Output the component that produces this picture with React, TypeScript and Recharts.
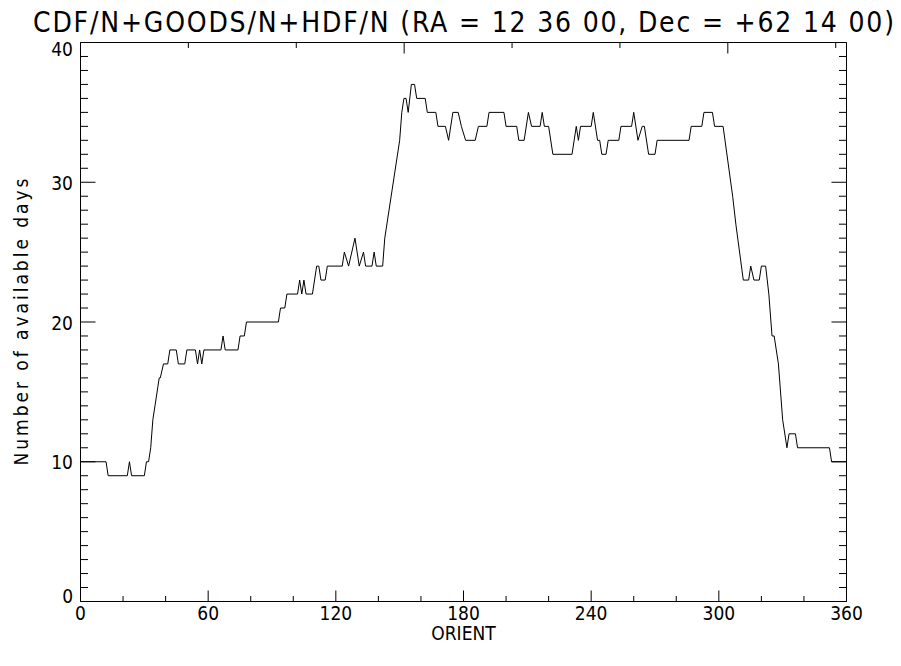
import { LineChart, Line, XAxis, YAxis, Label } from 'recharts';

// breakpoints of the curve (ORIENT in degrees)
const orient = [
  0, 12, 13, 22, 23, 24, 30, 31, 32, 33, 34, 35, 37, 37.5, 39, 41, 42, 45, 46, 49, 50, 54, 55, 56, 57, 58, 66, 67, 68, 74, 75,
  77, 78, 93, 94, 96, 97, 102, 103, 104, 105, 106, 109, 111, 112, 113, 115, 116, 123, 124, 126, 129, 131, 133, 134, 137, 138, 139, 142,
  143, 150, 151, 152, 153, 154, 155.5, 157, 158, 162, 163, 167, 168, 171.5, 173, 175, 177.5, 179, 181, 185.5, 187, 191, 192, 199, 200, 205, 206, 208.5, 210.5, 212, 216,
  217, 218, 220, 222, 231, 233, 234, 235, 240, 241, 243, 244, 245, 247, 248, 253, 254, 259, 260, 262, 264, 265, 267, 270, 271, 286, 287, 292, 293, 297, 298, 302,
  306.5, 308, 311.5, 314, 315, 316.5, 319, 320, 322, 323.5, 325, 326, 328, 330, 332, 333, 336, 337, 352, 353, 360,
];

const days = [
  10, 10, 9, 9, 10, 9, 9, 10, 10, 11, 13, 14, 16, 16, 17, 17, 18, 18, 17, 17, 18, 18, 17, 18, 17, 18, 18, 19, 18, 18, 19,
  19, 20, 20, 21, 21, 22, 22, 23, 22, 23, 22, 22, 24, 24, 23, 23, 24, 24, 25, 24, 26, 24, 25, 24, 24, 25, 24, 24,
  26, 33, 35, 36, 36, 35, 37, 37, 36, 36, 35, 35, 34, 34, 33, 35, 35, 34, 33, 33, 34, 34, 35, 35, 34, 34, 33, 33, 35, 34, 34,
  35, 34, 34, 32, 32, 34, 33, 34, 34, 35, 33, 33, 32, 32, 33, 33, 34, 34, 35, 33, 34, 34, 32, 32, 33, 33, 34, 34, 35, 35, 34, 34,
  29, 27, 23, 23, 24, 23, 23, 24, 24, 22, 19, 19, 17, 13, 11, 12, 12, 11, 11, 10, 10,
];

const xTicks = [0, 20, 40, 60, 80, 100, 120, 140, 160, 180, 200, 220, 240, 260, 280, 300, 320, 340, 360];
const xMajor = [0, 60, 120, 180, 240, 300, 360];
const yTicks = [
  0, 1, 2, 3, 4, 5, 6, 7, 8, 9, 10, 11, 12, 13, 14, 15, 16, 17, 18, 19, 20,
  21, 22, 23, 24, 25, 26, 27, 28, 29, 30, 31, 32, 33, 34, 35, 36, 37, 38, 39, 40,
];
const yMajor = [0, 10, 20, 30, 40];

const title = 'CDF/N+GOODS/N+HDF/N (RA = 12 36 00, Dec = +62 14 00)';
const xTitle = 'ORIENT';
const yTitle = 'Number of available days';

const FONT = "'DejaVu Sans Condensed', 'DejaVu Sans', sans-serif";

const data = orient.map((o, i) => ({ orient: o, days: days[i] }));

function XTick({ x, y, payload, top }: any) {
  const major = xMajor.includes(payload.value);
  const len = major ? 11 : 5.5;
  return (
    <g>
      <line x1={x} x2={x} y1={y} y2={top ? y + len : y - len} stroke="#000" />
      {!top && major && (
        <text x={x} y={y + 18} textAnchor="middle" fontFamily={FONT} fontSize={19} fill="#000">
          {payload.value}
        </text>
      )}
    </g>
  );
}

function YTick({ x, y, payload, right }: any) {
  const major = yMajor.includes(payload.value);
  const len = major ? 15 : 7.5;
  // end labels are pulled inside the frame
  let base = y + 7.5;
  if (payload.value === 0) base -= 6;
  if (payload.value === 40) base += 6;
  return (
    <g>
      <line x1={x} x2={right ? x - len : x + len} y1={y} y2={y} stroke="#000" />
      {!right && major && (
        <text x={x - 7.5} y={base} textAnchor="end" fontFamily={FONT} fontSize={19} fill="#000">
          {payload.value}
        </text>
      )}
    </g>
  );
}

export default function App() {
  return (
    <div style={{ position: 'absolute', left: 0, top: 0, width: 901, height: 666, background: '#fff' }}>
      <LineChart width={901} height={666} data={data} margin={{ top: 41.5, right: 53.5, bottom: 63.5, left: 79.5 }}>
        <XAxis
          dataKey="orient"
          type="number"
          domain={[0, 360]}
          ticks={xTicks}
          interval={0}
          height={1}
          tickSize={0}
          tickMargin={0}
          tickLine={false}
          stroke="#000"
          allowDataOverflow
          tick={(p: any) => <XTick {...p} />}
        >
          <Label
            content={(p: any) => (
              <text
                x={p.viewBox.x + p.viewBox.width / 2}
                y={p.viewBox.y + 38}
                textAnchor="middle"
                fontFamily={FONT}
                fontSize={19}
                fill="#000"
              >
                {xTitle}
              </text>
            )}
          />
        </XAxis>
        <XAxis
          xAxisId="top"
          orientation="top"
          type="number"
          domain={[0, 360]}
          ticks={xTicks}
          interval={0}
          height={1}
          tickSize={0}
          tickMargin={0}
          tickLine={false}
          stroke="#000"
          allowDataOverflow
          tick={(p: any) => <XTick {...p} top />}
        >
          <Label
            content={(p: any) => (
              <text
                x={p.viewBox.x + p.viewBox.width / 2}
                y={p.viewBox.y - 10}
                textAnchor="middle"
                fontFamily={FONT}
                fontSize={28}
                textLength={861}
                lengthAdjust="spacing"
                fill="#000"
              >
                {title}
              </text>
            )}
          />
        </XAxis>
        <YAxis
          type="number"
          domain={[0, 40]}
          ticks={yTicks}
          interval={0}
          width={1}
          tickSize={0}
          tickMargin={0}
          tickLine={false}
          stroke="#000"
          allowDataOverflow
          tick={(p: any) => <YTick {...p} />}
        >
          <Label
            content={(p: any) => {
              const cy = p.viewBox.y + p.viewBox.height / 2;
              return (
                <text
                  x={21}
                  y={cy}
                  transform={`rotate(-90 21 ${cy})`}
                  textAnchor="middle"
                  dominantBaseline="central"
                  fontFamily={FONT}
                  fontSize={19}
                  textLength={287}
                  lengthAdjust="spacing"
                  fill="#000"
                >
                  {yTitle}
                </text>
              );
            }}
          />
        </YAxis>
        <YAxis
          yAxisId="right"
          orientation="right"
          type="number"
          domain={[0, 40]}
          ticks={yTicks}
          interval={0}
          width={1}
          tickSize={0}
          tickMargin={0}
          tickLine={false}
          stroke="#000"
          allowDataOverflow
          tick={(p: any) => <YTick {...p} right />}
        />
        <Line
          type="linear"
          dataKey="days"
          stroke="#000"
          strokeWidth={1}
          dot={false}
          isAnimationActive={false}
        />
      </LineChart>
    </div>
  );
}
